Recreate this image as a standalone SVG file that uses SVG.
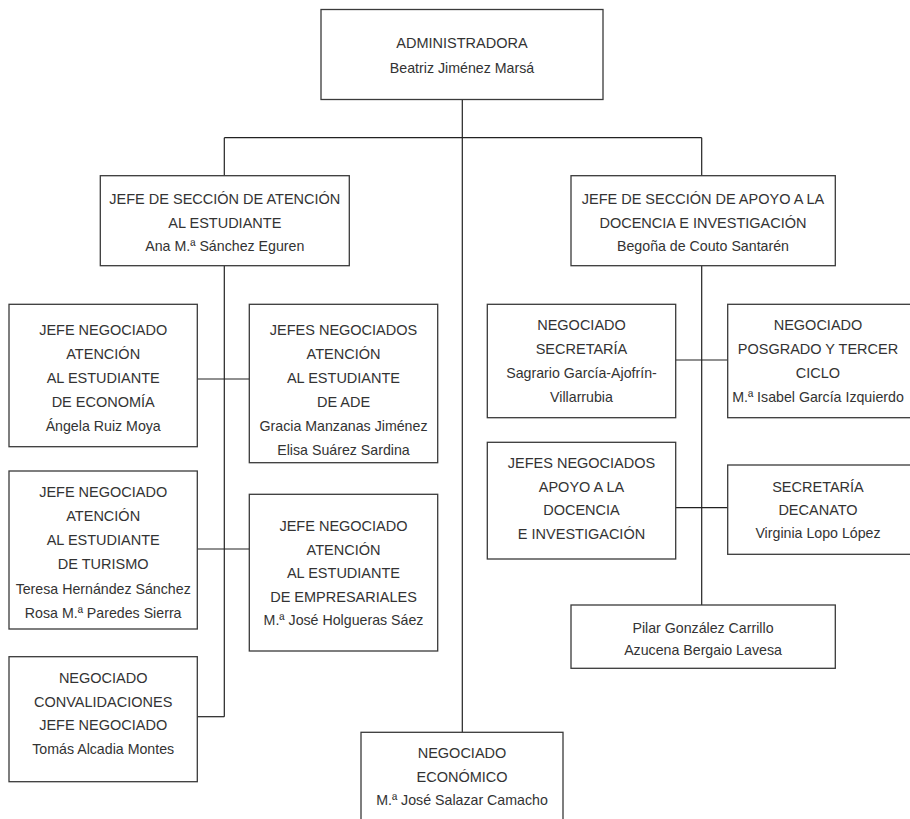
<svg xmlns="http://www.w3.org/2000/svg" width="910" height="819" viewBox="0 0 910 819">
<style>
.box{fill:#fff;stroke:#3a3a3a;stroke-width:1.3}
.ln{fill:none;stroke:#222;stroke-width:1.2}
text{font-family:"Liberation Sans",Arial,sans-serif;fill:#333;text-anchor:middle}
.t{font-size:14.5px}
.n{font-size:14.2px}
</style>
<rect width="910" height="819" fill="#fff"/>
<g id="connectors">
<path class="ln" d="M462.3 99.5V732.3"/>
<path class="ln" d="M224.3 137.7H701.7"/>
<path class="ln" d="M224.3 137.7V175.7"/>
<path class="ln" d="M701.7 137.7V175.7"/>
<path class="ln" d="M224.3 265.7V716.7"/>
<path class="ln" d="M197.3 379H249.3"/>
<path class="ln" d="M197.3 549H249.3"/>
<path class="ln" d="M197.3 716.7H224.3"/>
<path class="ln" d="M701.7 265.7V605"/>
<path class="ln" d="M675.7 360H727.7"/>
<path class="ln" d="M675.7 507.7H727.7"/>
</g>
<g id="administradora">
<rect class="box" x="321" y="9.5" width="282" height="90"/>
<text class="t" x="462" y="48">ADMINISTRADORA</text>
<text class="n" x="462" y="73">Beatriz Jiménez Marsá</text>
</g>
<g id="seccion-atencion">
<rect class="box" x="100.3" y="175.7" width="249" height="90"/>
<text class="t" x="224.8" y="204">JEFE DE SECCIÓN DE ATENCIÓN</text>
<text class="t" x="224.8" y="227.5">AL ESTUDIANTE</text>
<text class="n" x="224.8" y="251">Ana M.ª Sánchez Eguren</text>
</g>
<g id="seccion-apoyo">
<rect class="box" x="571" y="175.7" width="264.3" height="90"/>
<text class="t" x="703" y="204">JEFE DE SECCIÓN DE APOYO A LA</text>
<text class="t" x="703" y="227.5">DOCENCIA E INVESTIGACIÓN</text>
<text class="n" x="703" y="251">Begoña de Couto Santarén</text>
</g>
<g id="economia">
<rect class="box" x="9" y="304.3" width="188.3" height="142.4"/>
<text class="t" x="103.2" y="335">JEFE NEGOCIADO</text>
<text class="t" x="103.2" y="359">ATENCIÓN</text>
<text class="t" x="103.2" y="383">AL ESTUDIANTE</text>
<text class="t" x="103.2" y="407">DE ECONOMÍA</text>
<text class="n" x="103.2" y="431">Ángela Ruiz Moya</text>
</g>
<g id="ade">
<rect class="box" x="249.3" y="304.3" width="188.4" height="158.4"/>
<text class="t" x="343.5" y="335">JEFES NEGOCIADOS</text>
<text class="t" x="343.5" y="359">ATENCIÓN</text>
<text class="t" x="343.5" y="383">AL ESTUDIANTE</text>
<text class="t" x="343.5" y="407">DE ADE</text>
<text class="n" x="343.5" y="431">Gracia Manzanas Jiménez</text>
<text class="n" x="343.5" y="455">Elisa Suárez Sardina</text>
</g>
<g id="turismo">
<rect class="box" x="9" y="471" width="188.3" height="158"/>
<text class="t" x="103.2" y="497">JEFE NEGOCIADO</text>
<text class="t" x="103.2" y="521">ATENCIÓN</text>
<text class="t" x="103.2" y="545">AL ESTUDIANTE</text>
<text class="t" x="103.2" y="569">DE TURISMO</text>
<text class="n" x="103.2" y="594">Teresa Hernández Sánchez</text>
<text class="n" x="103.2" y="618">Rosa M.ª Paredes Sierra</text>
</g>
<g id="empresariales">
<rect class="box" x="249.3" y="494.3" width="188.4" height="156.7"/>
<text class="t" x="343.5" y="531">JEFE NEGOCIADO</text>
<text class="t" x="343.5" y="554.5">ATENCIÓN</text>
<text class="t" x="343.5" y="578">AL ESTUDIANTE</text>
<text class="t" x="343.5" y="601.5">DE EMPRESARIALES</text>
<text class="n" x="343.5" y="625">M.ª José Holgueras Sáez</text>
</g>
<g id="convalidaciones">
<rect class="box" x="9" y="656.7" width="188.3" height="125"/>
<text class="t" x="103.2" y="683">NEGOCIADO</text>
<text class="t" x="103.2" y="706.5">CONVALIDACIONES</text>
<text class="t" x="103.2" y="730">JEFE NEGOCIADO</text>
<text class="n" x="103.2" y="753.5">Tomás Alcadia Montes</text>
</g>
<g id="economico">
<rect class="box" x="361" y="732.3" width="202" height="100"/>
<text class="t" x="462" y="758">NEGOCIADO</text>
<text class="t" x="462" y="781.5">ECONÓMICO</text>
<text class="n" x="462" y="805">M.ª José Salazar Camacho</text>
</g>
<g id="secretaria">
<rect class="box" x="487.3" y="304.3" width="188.4" height="113.4"/>
<text class="t" x="581.5" y="330">NEGOCIADO</text>
<text class="t" x="581.5" y="354">SECRETARÍA</text>
<text class="n" x="581.5" y="378">Sagrario García-Ajofrín-</text>
<text class="n" x="581.5" y="402">Villarrubia</text>
</g>
<g id="posgrado">
<rect class="box" x="727.7" y="304.3" width="200" height="113.4"/>
<text class="t" x="818" y="330">NEGOCIADO</text>
<text class="t" x="818" y="354">POSGRADO Y TERCER</text>
<text class="t" x="818" y="378">CICLO</text>
<text class="n" x="818" y="402">M.ª Isabel García Izquierdo</text>
</g>
<g id="apoyo">
<rect class="box" x="487.3" y="442.3" width="188.4" height="116.7"/>
<text class="t" x="581.5" y="468">JEFES NEGOCIADOS</text>
<text class="t" x="581.5" y="491.5">APOYO A LA</text>
<text class="t" x="581.5" y="515">DOCENCIA</text>
<text class="t" x="581.5" y="538.5">E INVESTIGACIÓN</text>
</g>
<g id="decanato">
<rect class="box" x="727.7" y="465" width="200" height="89.3"/>
<text class="t" x="818" y="492">SECRETARÍA</text>
<text class="t" x="818" y="515">DECANATO</text>
<text class="n" x="818" y="538">Virginia Lopo López</text>
</g>
<g id="pilar">
<rect class="box" x="571" y="605" width="264.3" height="63.3"/>
<text class="n" x="703" y="632.5">Pilar González Carrillo</text>
<text class="n" x="703" y="655">Azucena Bergaio Lavesa</text>
</g>
</svg>
